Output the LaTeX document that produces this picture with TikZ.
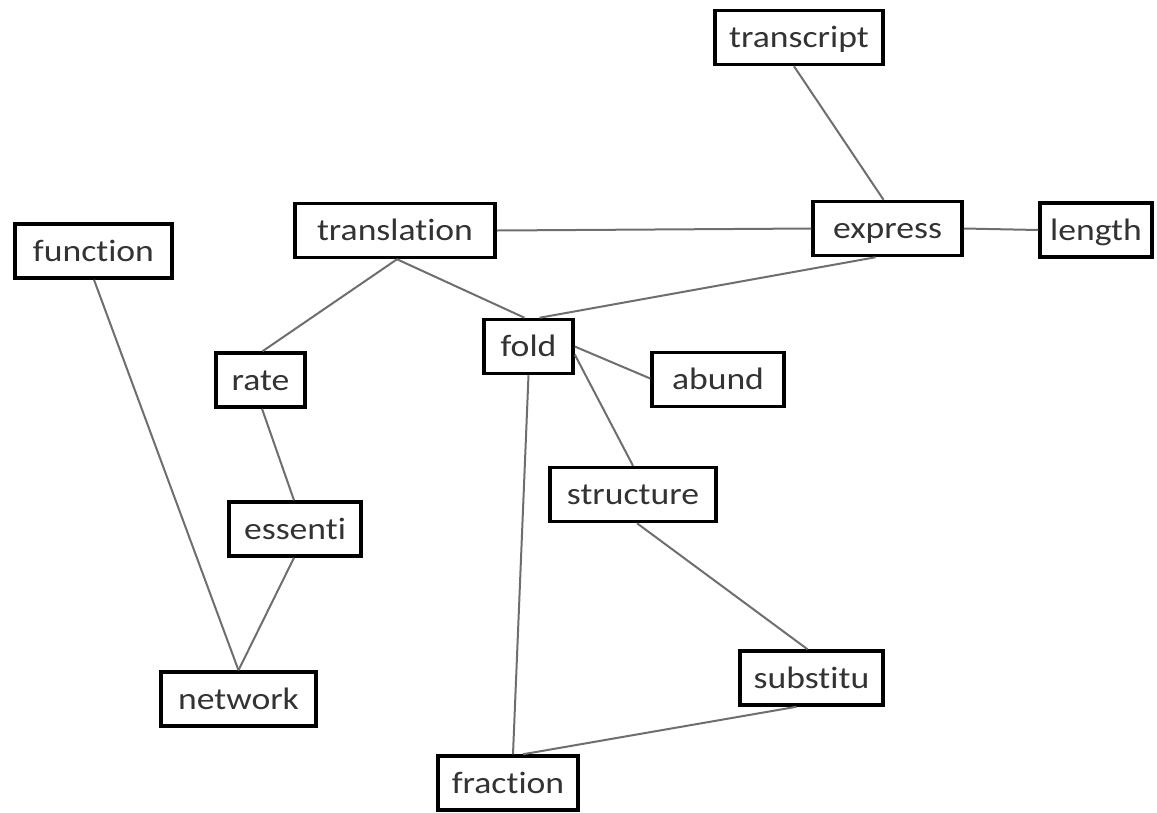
\documentclass[tikz,border=0pt]{standalone}
\usepackage{fontspec}
\setmainfont[Ligatures={NoCommon,NoRare,NoContextual}]{Carlito}
\usepackage{graphicx}
\definecolor{txt}{HTML}{333333}
\definecolor{edge}{HTML}{6E6E6E}
\newcommand\lbl[1]{\scalebox{1.15}[1]{#1}}
\begin{document}
\begin{tikzpicture}[x=1pt,y=-1pt,
  box/.style={draw=black, line width=3.5pt, fill=white, inner sep=0pt,
    minimum height=54pt, text height=24pt, text depth=4pt,
    text=txt, font=\fontsize{31}{34}\selectfont},
  link/.style={draw=edge, line width=2pt}]
\useasboundingbox (0,0) rectangle (1157,812);
\node[box, minimum width=168pt] (transcript) at (799,37.5) {\lbl{transcript}};
\node[box, minimum width=157pt] (function) at (93.5,251) {\lbl{function}};
\node[box, minimum width=200pt] (translation) at (395,230.5) {\lbl{translation}};
\node[box, minimum width=149pt] (express) at (887.5,228.5) {\lbl{express}};
\node[box, minimum width=112pt] (length) at (1096,230) {\lbl{length}};
\node[box, minimum width=89pt] (fold) at (528.5,346.5) {\lbl{fold}};
\node[box, minimum width=89pt] (rate) at (260.5,380) {\lbl{rate}};
\node[box, minimum width=132pt] (abund) at (718,379.5) {\lbl{abund}};
\node[box, minimum width=166pt] (structure) at (633,494.5) {\lbl{structure}};
\node[box, minimum width=132pt] (essenti) at (295,529) {\lbl{essenti}};
\node[box, minimum width=143pt] (substitu) at (811.5,678) {\lbl{substitu}};
\node[box, minimum width=155pt] (network) at (238.5,699) {\lbl{network}};
\node[box, minimum width=140pt] (fraction) at (508,783) {\lbl{fraction}};
\draw[link] ([xshift=-5pt]transcript.south) -- ([xshift=-4pt]express.north);
\draw[link] (translation.east) -- (express.west);
\draw[link] (express.east) -- (length.west);
\draw[link] ([xshift=-12pt]express.south) -- ([xshift=11pt]fold.north);
\draw[link] ([xshift=2pt]translation.south) -- ([xshift=-4pt]fold.north);
\draw[link] ([xshift=2pt]translation.south) -- ([xshift=2pt]rate.north);
\draw[link] ([xshift=0.5pt]function.south) -- (network.north);
\draw[link] ([xshift=1.5pt]rate.south) -- ([xshift=-1pt]essenti.north);
\draw[link] ([xshift=-1pt]essenti.south) -- (network.north);
\draw[link] ([yshift=0pt]fold.east) -- ([yshift=1pt]abund.west);
\draw[link] ([yshift=-8pt]fold.east) -- (structure.north);
\draw[link] (fold.south) -- ([xshift=5pt]fraction.north);
\draw[link] ([xshift=4pt]structure.south) -- ([xshift=-4pt]substitu.north);
\draw[link] ([xshift=-15pt]substitu.south) -- ([xshift=15pt]fraction.north);
\end{tikzpicture}
\end{document}
